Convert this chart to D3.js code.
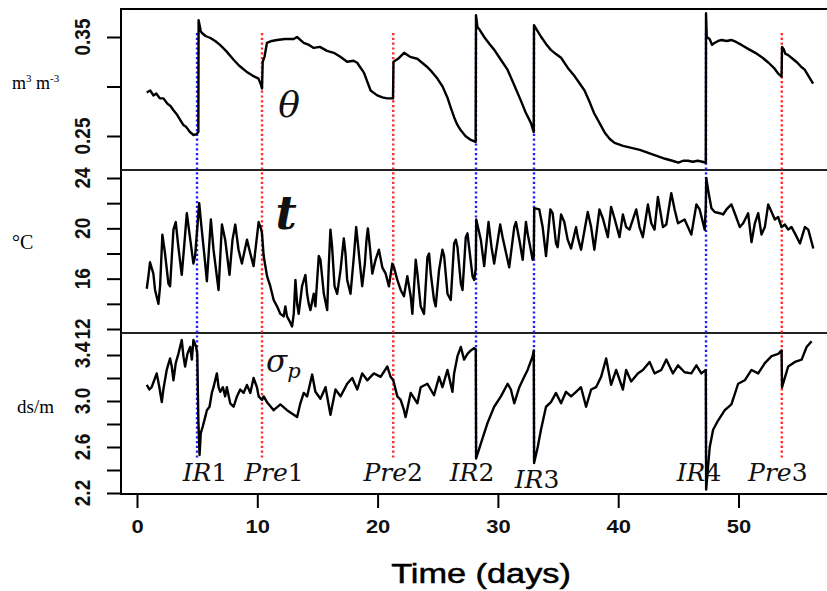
<!DOCTYPE html>
<html>
<head>
<meta charset="utf-8">
<script src="https://cdn.jsdelivr.net/npm/d3@7"></script>
<style>
  html, body { margin: 0; padding: 0; background: #fff; }
  svg { display: block; }
</style>
</head>
<body>
<script>
// ---------------- DATA ----------------
const xTicks = [0, 10, 20, 30, 40, 50];

const thetaTicks = [0.25, 0.30, 0.35];
const thetaLabels = ["0.25", "0.35"];
const tempTicks = [12, 14, 16, 18, 20, 22, 24];
const tempLabels = ["12", "16", "20", "24"];
const sigmaTicks = [2.2, 2.4, 2.6, 2.8, 3.0, 3.2, 3.4];
const sigmaLabels = ["2.2", "2.6", "3.0", "3.4"];

// events: [letters, digit, day, kind]
const events = [
  ["IR", "1", 4.99, "IR"],
  ["Pre", "1", 10.39, "Pre"],
  ["Pre", "2", 21.3, "Pre"],
  ["IR", "2", 28.18, "IR"],
  ["IR", "3", 33.0, "IR"],
  ["IR", "4", 47.3, "IR"],
  ["Pre", "3", 53.6, "Pre"]
];

// volumetric water content theta (m3 m-3): [day, value]
const theta = [
  [0.81,0.294],[1.1,0.296],[1.36,0.291],[1.6,0.293],[1.9,0.288],[2.2,0.288],[2.5,0.283],[2.8,0.280],
  [3.03,0.276],[3.3,0.272],[3.6,0.266],[3.86,0.261],[4.1,0.259],[4.4,0.254],[4.7,0.251],[4.95,0.252],
  [5.1,0.254],[5.12,0.367],[5.3,0.356],[5.4,0.354],[5.7,0.351],[6.1,0.349],[6.5,0.346],[6.9,0.342],
  [7.4,0.336],[8.03,0.327],[8.5,0.321],[9.1,0.315],[9.6,0.311],[10.1,0.308],[10.3,0.302],[10.39,0.298],
  [10.45,0.325],[10.6,0.33],[10.8,0.344],[11.2,0.346],[11.64,0.347],[12.3,0.348],[13.03,0.348],[13.3,0.350],
  [13.86,0.344],[14.3,0.342],[14.69,0.339],[15.2,0.340],[15.8,0.336],[16.36,0.334],[16.9,0.330],[17.47,0.325],
  [18.0,0.326],[18.3,0.324],[18.86,0.314],[19.42,0.296],[19.97,0.291],[20.4,0.289],[20.8,0.288],[21.28,0.288],
  [21.32,0.325],[21.7,0.328],[22.2,0.334],[22.7,0.330],[23.3,0.328],[23.7,0.324],[24.1,0.320],[24.5,0.315],
  [24.97,0.308],[25.4,0.300],[25.8,0.289],[26.1,0.278],[26.36,0.269],[26.6,0.262],[26.9,0.256],[27.3,0.250],
  [27.75,0.246],[28.15,0.244],[28.18,0.372],[28.3,0.360],[28.5,0.357],[28.86,0.350],[29.3,0.343],[29.7,0.337],
  [30.3,0.326],[30.8,0.317],[31.3,0.303],[31.9,0.286],[32.3,0.274],[32.75,0.263],[32.98,0.254],[33.0,0.362],
  [33.3,0.356],[33.6,0.350],[34.0,0.343],[34.4,0.337],[34.8,0.333],[35.25,0.329],[35.8,0.319],[36.4,0.310],
  [36.8,0.303],[37.2,0.296],[37.6,0.285],[38.0,0.273],[38.5,0.262],[38.9,0.253],[39.3,0.247],[39.7,0.243],
  [40.4,0.240],[41.1,0.238],[41.8,0.236],[42.5,0.233],[43.2,0.230],[43.9,0.227],[44.5,0.225],[45.0,0.223],
  [45.4,0.225],[45.8,0.225],[46.2,0.224],[46.6,0.225],[47.0,0.224],[47.28,0.223],[47.3,0.374],[47.36,0.35],
  [47.6,0.348],[47.8,0.342],[48.0,0.344],[48.3,0.346],[48.6,0.347],[49.0,0.346],[49.4,0.347],[49.8,0.345],
  [50.25,0.342],[50.8,0.338],[51.4,0.334],[52.0,0.329],[52.5,0.324],[53.0,0.318],[53.3,0.313],[53.58,0.310],
  [53.62,0.340],[53.75,0.338],[53.9,0.333],[54.1,0.332],[54.5,0.328],[54.9,0.324],[55.2,0.320],[55.5,0.317],
  [55.9,0.309],[56.2,0.303]
];

// soil temperature t (°C): [day, value]
const temperature = [
  [0.81,15.2],[0.95,16.2],[1.08,17.3],[1.36,16.4],[1.5,15.1],[1.78,14.0],[1.92,15.4],[2.11,19.5],[2.33,18.0],
  [2.61,15.6],[2.75,15.4],[3.03,19.9],[3.22,20.5],[3.44,18.5],[3.72,16.3],[3.94,18.8],[4.14,21.2],[4.36,19.6],
  [4.69,17.2],[4.83,17.8],[5.17,22.0],[5.33,20.4],[5.67,17.2],[5.81,15.8],[6.14,20.7],[6.36,18.3],[6.78,15.1],
  [7.06,20.3],[7.33,19.1],[7.69,16.3],[7.94,19.1],[8.17,20.3],[8.44,18.3],[8.72,17.2],[9.14,19.1],[9.42,18.0],
  [9.69,17.0],[10.11,20.5],[10.3,20.0],[10.39,19.6],[10.53,17.8],[10.81,16.2],[11.08,15.4],[11.36,14.3],
  [11.64,13.8],[11.92,13.2],[12.19,13.0],[12.33,13.8],[12.47,13.0],[12.75,12.5],[12.89,12.2],[13.03,13.2],
  [13.17,15.9],[13.31,14.0],[13.44,13.2],[13.72,15.4],[14.0,16.3],[14.14,14.8],[14.28,14.0],[14.42,13.5],
  [14.69,14.8],[14.83,13.8],[15.11,17.8],[15.25,17.5],[15.53,14.8],[15.81,13.5],[15.94,17.0],[16.08,19.9],
  [16.22,18.5],[16.42,15.4],[16.64,14.8],[16.92,16.7],[17.19,19.2],[17.33,18.0],[17.47,15.9],[17.75,14.8],
  [18.03,17.8],[18.22,20.1],[18.36,18.8],[18.58,16.7],[18.72,15.4],[18.94,17.2],[19.08,19.1],[19.19,20.0],
  [19.36,18.5],[19.56,16.4],[19.83,17.5],[20.11,18.3],[20.39,16.9],[20.67,16.4],[20.94,15.4],[21.22,17.2],
  [21.36,16.9],[21.64,15.9],[21.92,15.1],[22.19,14.6],[22.47,16.2],[22.75,14.6],[22.89,13.2],[23.17,17.5],
  [23.31,16.4],[23.58,13.8],[23.86,13.2],[24.14,17.7],[24.28,18.0],[24.42,16.4],[24.69,14.3],[24.83,13.8],
  [25.11,16.7],[25.39,18.3],[25.53,17.8],[25.81,14.8],[26.08,14.3],[26.36,18.8],[26.5,19.1],[26.64,18.5],
  [26.92,15.6],[27.06,15.1],[27.33,19.3],[27.47,19.6],[27.89,16.2],[28.03,15.9],[28.16,16.8],[28.2,20.7],
  [28.58,19.1],[28.86,17.0],[29.22,20.5],[29.47,18.5],[29.69,17.2],[30.19,20.3],[30.39,19.3],[30.94,16.9],
  [31.36,20.1],[31.5,20.5],[31.78,19.1],[32.06,17.5],[32.33,20.5],[32.47,19.6],[32.89,17.5],[32.98,17.7],
  [33.02,21.6],[33.44,21.5],[33.72,20.1],[34.0,17.8],[34.36,21.5],[34.55,21.2],[34.83,18.8],[34.97,18.5],
  [35.25,21.1],[35.52,20.5],[35.8,19.1],[36.08,18.4],[36.5,20.1],[36.64,19.3],[36.91,18.3],[37.47,21.3],
  [37.75,20.1],[38.02,18.3],[38.44,21.5],[38.72,20.8],[39.14,19.3],[39.41,21.7],[39.69,20.8],[40.11,19.3],
  [40.39,21.1],[40.66,20.1],[40.94,19.9],[41.5,21.5],[41.77,20.1],[42.05,19.3],[42.47,21.9],[42.75,20.4],
  [43.02,19.9],[43.3,22.5],[43.72,20.1],[44.0,20.3],[44.41,22.8],[44.69,21.5],[44.97,20.4],[45.52,20.7],
  [46.08,19.5],[46.5,21.9],[46.77,21.5],[47.19,19.9],[47.28,21.7],[47.32,24.0],[47.52,22.8],[47.75,21.6],
  [48.02,21.3],[48.44,21.2],[48.72,21.1],[49.0,21.5],[49.41,21.9],[49.69,21.2],[50.11,20.1],[50.39,20.4],
  [50.8,21.2],[51.08,18.9],[51.36,20.4],[51.64,21.2],[51.91,19.5],[52.19,20.1],[52.47,21.9],[52.75,21.3],
  [53.02,20.7],[53.3,20.9],[53.58,20.1],[53.86,20.3],[54.13,19.9],[54.41,20.1],[54.69,19.6],[55.11,18.8],
  [55.52,20.1],[55.8,19.9],[56.22,18.4]
];

// pore water electrical conductivity sigma_p (ds/m): [day, value]
const sigma = [
  [0.81,3.14],[1.03,3.10],[1.22,3.12],[1.5,3.20],[1.64,3.24],[1.86,3.12],[2.06,2.99],[2.19,3.10],[2.47,3.27],
  [2.75,3.37],[2.89,3.30],[3.03,3.18],[3.22,3.33],[3.44,3.41],[3.72,3.53],[3.86,3.39],[4.0,3.30],[4.19,3.41],
  [4.42,3.47],[4.56,3.36],[4.69,3.53],[4.92,3.47],[5.01,3.41],[5.04,3.21],[5.1,2.83],[5.2,2.53],[5.3,2.72],
  [5.47,2.78],[5.67,2.86],[5.81,2.92],[6.03,2.95],[6.22,3.07],[6.36,3.12],[6.64,3.24],[6.78,3.12],[6.92,3.08],
  [7.14,3.12],[7.33,3.04],[7.47,3.12],[7.75,2.98],[8.03,2.95],[8.31,3.04],[8.58,3.10],[8.86,3.07],[9.14,3.14],
  [9.42,3.07],[9.69,3.20],[9.97,3.12],[10.11,3.04],[10.39,3.01],[10.53,3.04],[10.81,2.99],[11.36,2.92],
  [11.92,2.97],[12.47,2.92],[13.03,2.88],[13.31,2.86],[13.58,2.98],[13.86,3.07],[14.14,3.04],[14.56,3.23],
  [14.83,3.08],[15.25,3.02],[15.67,3.12],[16.08,2.88],[16.5,3.10],[16.92,3.04],[17.47,3.15],[17.89,3.20],
  [18.31,3.10],[18.72,3.24],[19.14,3.18],[19.69,3.24],[20.25,3.21],[20.81,3.30],[21.08,3.21],[21.3,3.18],
  [21.64,3.04],[21.92,3.01],[22.19,2.92],[22.33,2.86],[22.75,3.07],[23.31,2.98],[23.58,3.12],[24.14,3.15],
  [24.69,3.05],[25.11,3.21],[25.39,3.12],[25.81,3.27],[26.22,3.08],[26.36,3.24],[26.64,3.39],[26.92,3.47],
  [27.19,3.36],[27.47,3.41],[27.75,3.44],[28.03,3.46],[28.16,3.45],[28.19,2.50],[28.58,2.63],[29.14,2.81],
  [29.69,2.95],[30.25,3.04],[30.81,3.15],[31.08,3.10],[31.36,2.98],[31.78,3.12],[32.19,3.21],[32.47,3.27],
  [32.89,3.39],[32.98,3.44],[33.01,2.46],[33.31,2.60],[33.58,2.75],[34.0,2.95],[34.41,2.99],[34.83,3.07],
  [35.25,2.98],[35.66,3.08],[36.08,3.04],[36.5,3.08],[36.91,3.12],[37.33,2.95],[37.75,3.10],[38.16,3.12],
  [38.58,3.21],[39.0,3.37],[39.41,3.14],[39.83,3.27],[40.39,3.10],[40.66,3.27],[41.08,3.17],[41.63,3.24],
  [42.05,3.27],[42.61,3.34],[43.02,3.24],[43.58,3.27],[44.0,3.36],[44.55,3.24],[44.97,3.31],[45.52,3.25],
  [46.08,3.24],[46.5,3.31],[46.91,3.24],[47.28,3.27],[47.31,2.23],[47.61,2.60],[47.89,2.75],[48.3,2.83],
  [48.86,2.92],[49.41,2.97],[49.97,3.15],[50.52,3.18],[51.08,3.27],[51.64,3.24],[52.19,3.33],[52.75,3.39],
  [53.3,3.41],[53.58,3.44],[53.62,3.12],[54.13,3.30],[54.69,3.34],[55.25,3.36],[55.66,3.47],[56.08,3.52]
];

// ---------------- LAYOUT ----------------
const W = 827, H = 591;
const box = { left: 121, right: 830, top: 9, bottom: 494, sep1: 170, sep2: 333 };
const eventLineTop = 33, eventLineBottom = 458;
// label layout per event: [dx from line, baseline y]
const eventLabelPos = [[8,481],[12,481],[0,481],[-4,481],[3,488],[-7,481],[-4,481]];

const svg = d3.select("body").append("svg").attr("width", W).attr("height", H);

const x = d3.scaleLinear().domain([0, 50]).range([137, 738.5]);
const y1 = d3.scaleLinear().domain([0.25, 0.35]).range([136, 37]);
const y2 = d3.scaleLinear().domain([12, 24]).range([329, 178]);
const y3 = d3.scaleLinear().domain([2.2, 3.4]).range([493, 355]);

const sansFont = "'Liberation Sans', Arial, Helvetica, sans-serif";
const serifFont = "'Liberation Serif', 'Times New Roman', serif";
const mathFont = "'DejaVu Serif', serif";

// frame
svg.append("line").attr("x1", box.left).attr("x2", box.right).attr("y1", box.top).attr("y2", box.top)
  .attr("stroke", "#000").attr("stroke-width", 2);
svg.append("line").attr("x1", box.left).attr("x2", box.right).attr("y1", box.bottom).attr("y2", box.bottom)
  .attr("stroke", "#000").attr("stroke-width", 2);
svg.append("line").attr("x1", box.left).attr("x2", box.left).attr("y1", box.top - 1).attr("y2", box.bottom + 1)
  .attr("stroke", "#000").attr("stroke-width", 2);
[box.sep1, box.sep2].forEach(yy => {
  svg.append("line").attr("x1", box.left).attr("x2", box.right).attr("y1", yy).attr("y2", yy)
    .attr("stroke", "#222").attr("stroke-width", 1.8);
});

// y axes (ticks only; labels drawn rotated)
function yAxis(scale, ticks, labels) {
  const g = svg.append("g").attr("transform", `translate(${box.left},0)`)
    .call(d3.axisLeft(scale).tickValues(ticks).tickSize(14).tickFormat(""));
  g.select(".domain").remove();
  g.selectAll(".tick line").attr("stroke", "#000").attr("stroke-width", 2);
  labels.forEach(lab => {
    svg.append("text")
      .attr("transform", `translate(90,${scale(+lab)}) scale(1.2,1) rotate(-90)`)
      .attr("text-anchor", "middle")
      .attr("font-family", sansFont)
      .attr("font-weight", "bold")
      .attr("font-size", 19)
      .attr("fill", "#111")
      .text(lab);
  });
}
yAxis(y1, thetaTicks, thetaLabels);
yAxis(y2, tempTicks, tempLabels);
yAxis(y3, sigmaTicks, sigmaLabels);

// x axis
const gx = svg.append("g").attr("transform", `translate(0,${box.bottom})`)
  .call(d3.axisBottom(x).tickValues(xTicks).tickSize(14).tickPadding(12));
gx.select(".domain").remove();
gx.selectAll(".tick line").attr("stroke", "#000").attr("stroke-width", 2);
gx.selectAll(".tick text")
  .attr("font-family", sansFont).attr("font-weight", "bold").attr("font-size", 18)
  .attr("fill", "#111").attr("transform", "scale(1.22,1)");

// axis title
svg.append("text")
  .attr("transform", "translate(481,583) scale(1.27,1)")
  .attr("text-anchor", "middle")
  .attr("font-family", sansFont).attr("font-size", 27)
  .attr("fill", "#000").attr("stroke", "#000").attr("stroke-width", 0.5)
  .text("Time (days)");

// event dotted lines
events.forEach(e => {
  svg.append("line")
    .attr("x1", x(e[2])).attr("x2", x(e[2]))
    .attr("y1", eventLineTop).attr("y2", eventLineBottom)
    .attr("stroke", e[3] === "IR" ? "#1f1fff" : "#ff2a2a")
    .attr("stroke-width", 2.4)
    .attr("stroke-dasharray", "2.2,2.6");
});

// series lines
function drawSeries(data, yScale) {
  const line = d3.line().x(d => x(d[0])).y(d => yScale(d[1]));
  svg.append("path").datum(data).attr("d", line)
    .attr("fill", "none").attr("stroke", "#000").attr("stroke-width", 2.4)
    .attr("stroke-linejoin", "round");
}
drawSeries(theta, y1);
drawSeries(temperature, y2);
drawSeries(sigma, y3);

// event labels
events.forEach((e, i) => {
  const t = svg.append("text")
    .attr("x", x(e[2]) + eventLabelPos[i][0]).attr("y", eventLabelPos[i][1])
    .attr("text-anchor", "middle")
    .attr("font-family", mathFont).attr("font-size", 25).attr("fill", "#111");
  t.append("tspan").attr("font-style", "italic").text(e[0]);
  t.append("tspan").text(e[1]);
});

// variable symbols
svg.append("text").attr("x", 289).attr("y", 117).attr("text-anchor", "middle")
  .attr("font-family", mathFont).attr("font-style", "italic").attr("font-size", 36).attr("fill", "#111")
  .text("θ");
svg.append("text").attr("x", 286).attr("y", 229).attr("text-anchor", "middle")
  .attr("font-family", mathFont).attr("font-style", "italic").attr("font-weight", "bold")
  .attr("font-size", 46).attr("fill", "#111")
  .text("t");
const sp = svg.append("text").attr("x", 266).attr("y", 372)
  .attr("font-family", mathFont).attr("font-style", "italic").attr("fill", "#111");
sp.append("tspan").attr("font-size", 31).text("σ");
sp.append("tspan").attr("font-size", 21).attr("dy", 6).text("p");

// unit labels
const u1 = svg.append("text").attr("x", 12).attr("y", 89)
  .attr("font-family", serifFont).attr("font-size", 18).attr("fill", "#000");
u1.append("tspan").text("m");
u1.append("tspan").attr("font-size", 11).attr("dy", -7).text("3");
u1.append("tspan").attr("dy", 7).text(" m");
u1.append("tspan").attr("font-size", 11).attr("dy", -7).text("-3");

svg.append("text").attr("x", 12).attr("y", 249)
  .attr("font-family", serifFont).attr("font-size", 20).attr("fill", "#000")
  .text("°C");
svg.append("text").attr("x", 17).attr("y", 413)
  .attr("font-family", serifFont).attr("font-size", 19).attr("fill", "#000")
  .text("ds/m");
</script>
</body>
</html>
